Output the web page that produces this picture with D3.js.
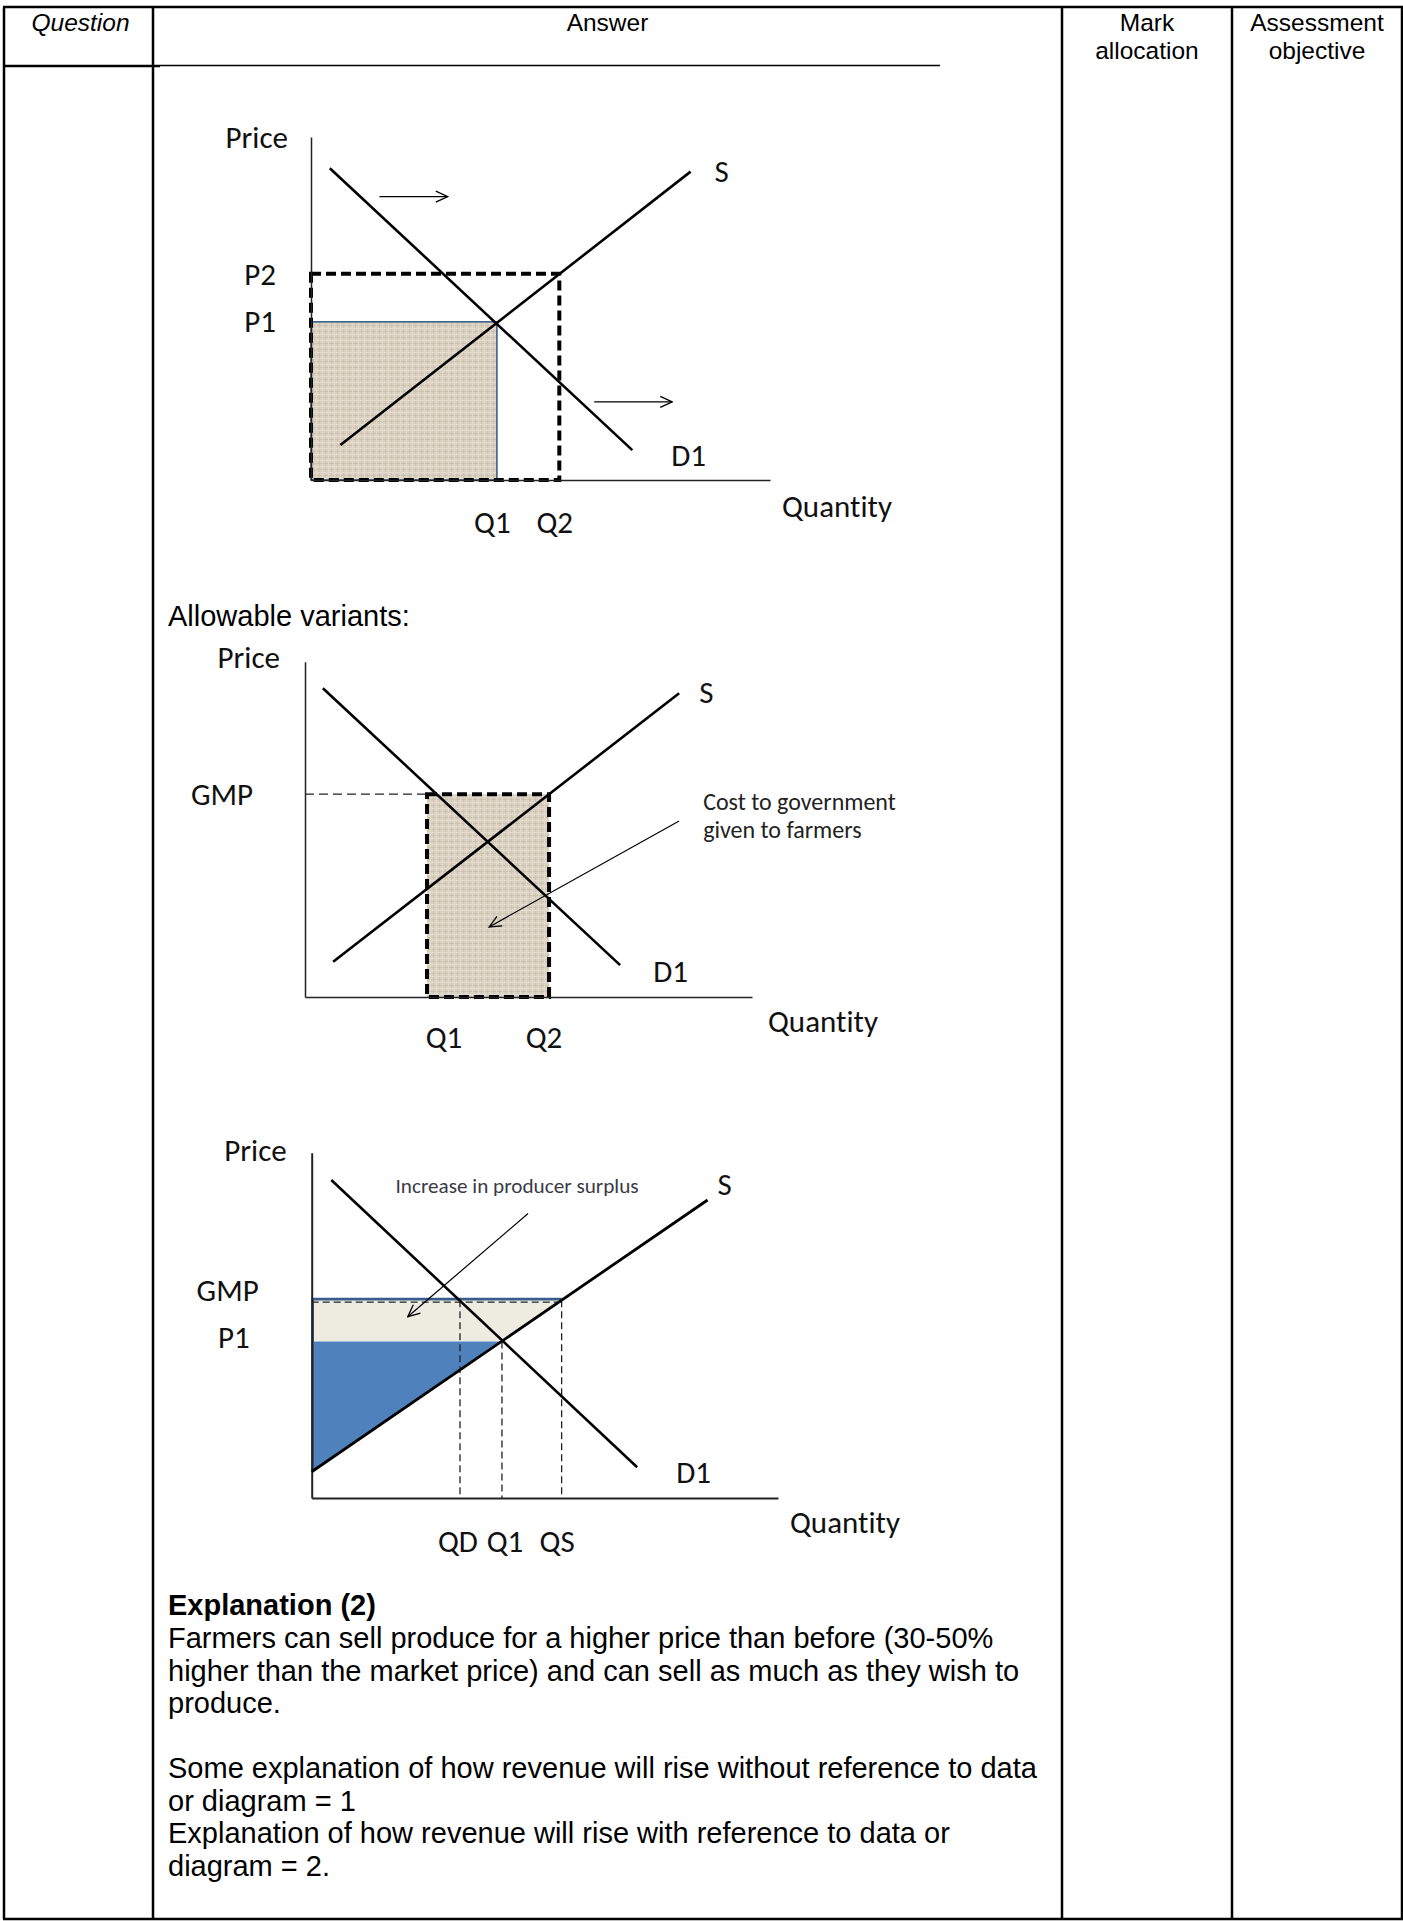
<!DOCTYPE html>
<html><head><meta charset="utf-8">
<script src="https://cdn.jsdelivr.net/npm/d3@7"></script>
<style>
html,body{margin:0;padding:0;background:#fff;}
svg{display:block;}
text{font-variant-ligatures:none;font-feature-settings:"liga" 0,"clig" 0;}
</style></head>
<body>
<svg id="chart" width="1403" height="1921"></svg>
<script>
// ================= DATA =================
const headerLabels = [["Question"], ["Answer"], ["Mark", "allocation"], ["Assessment", "objective"]];

// Diagram 1 — values in data units (0..100 on each axis)
const d1Demand = [[4.1, 90.9], [70.0, 8.7]];
const d1Supply = [[6.4, 10.2], [82.7, 89.9]];
const d1Q = {Q1: 40.5, Q2: 54.1};
const d1P = {P1: 46.1, P2: 60.1};
const d1Arrows = [[[14.9, 82.6], [29.8, 82.6]], [[61.7, 22.8], [78.7, 22.8]]];

// Diagram 2
const d2Demand = [[4.0, 92.1], [70.5, 9.5]];
const d2Supply = [[6.3, 10.5], [83.7, 90.6]];
const d2Q = {Q1: 27.3, Q2: 54.6};
const d2P = {GMP: 60.5};
const d2Arrow = [[83.7, 52.5], [41.2, 20.9]];
const d2Note = ["Cost to government", "given to farmers"];

// Diagram 3
const d3Demand = [[4.2, 92.1], [69.8, 8.9]];
const d3Supply = [[0, 7.6], [84.9, 86.3]];
const d3Q = {QD: 31.8, Q1: 40.8, QS: 53.6};
const d3P = {GMP: 57.3, P1: 45.3};
const d3Arrow = [[46.4, 82.4], [20.6, 52.5]];
const d3Note = "Increase in producer surplus";

const variantsLabel = "Allowable variants:";
const explanationTitle = "Explanation (2)";
const explanationLines = [
  "Farmers can sell produce for a higher price than before (30-50%",
  "higher than the market price) and can sell as much as they wish to",
  "produce.",
  "",
  "Some explanation of how revenue will rise without reference to data",
  "or diagram = 1",
  "Explanation of how revenue will rise with reference to data or",
  "diagram = 2."
];

// ================= LAYOUT =================
const table = {cols: [4, 153, 1062, 1232, 1402], top: 7, headBottom: 66, bottom: 1919};
const frames = [
  {x0: 311, y0: 480, x1: 770, y1: 137},
  {x0: 305, y0: 997, x1: 752, y1: 661.7},
  {x0: 311.7, y0: 1498, x1: 778, y1: 1152.7}
];
const arialF = "'Liberation Sans', Arial, Helvetica, sans-serif";
const calF = "Carlito, Calibri, Lato, sans-serif";
const labelSize = 31;

const svg = d3.select("#chart");
const defs = svg.append("defs");
const pat = defs.append("pattern").attr("id", "linen").attr("width", 6).attr("height", 6)
  .attr("patternUnits", "userSpaceOnUse");
pat.append("rect").attr("width", 6).attr("height", 6).attr("fill", "#dbd2c2");
[["M0,1.5H6", "#cabfae"], ["M1.5,0V6", "#cfc4b3"], ["M0,4.5H6", "#e5ded2"], ["M4.5,0V6", "#e1dacd"]]
  .forEach(([d, c]) => pat.append("path").attr("d", d).attr("stroke", c).attr("stroke-width", 0.9));

defs.append("marker").attr("id", "arrowOpen").attr("viewBox", "0 0 14 14")
  .attr("refX", 13).attr("refY", 7).attr("markerWidth", 14).attr("markerHeight", 14)
  .attr("markerUnits", "userSpaceOnUse").attr("orient", "auto")
  .append("path").attr("d", "M1,1.5 L13,7 L1,12.5").attr("fill", "none")
  .attr("stroke", "#000").attr("stroke-width", 1.3);

// ================= TABLE =================
const tg = svg.append("g").attr("stroke", "#000").attr("fill", "none");
const cL = table.cols;
tg.append("line").attr("x1", cL[0] - 1).attr("x2", cL[4] + 1).attr("y1", table.top).attr("y2", table.top).attr("stroke-width", 2.5);
tg.append("line").attr("x1", cL[0] - 1).attr("x2", cL[4] + 1).attr("y1", table.bottom).attr("y2", table.bottom).attr("stroke-width", 2.5);
cL.forEach(x => tg.append("line").attr("x1", x).attr("x2", x).attr("y1", table.top).attr("y2", table.bottom).attr("stroke-width", 2.5));
tg.append("line").attr("x1", cL[0]).attr("x2", 160).attr("y1", table.headBottom).attr("y2", table.headBottom).attr("stroke-width", 2.5);
tg.append("line").attr("x1", 160).attr("x2", 940).attr("y1", table.headBottom - 0.5).attr("y2", table.headBottom - 0.5).attr("stroke-width", 1.6);

const hg = svg.append("g").attr("font-family", arialF).attr("font-size", 24.5).attr("fill", "#000").attr("text-anchor", "middle");
headerLabels.forEach((lines, i) => {
  const cx = (cL[i] + cL[i + 1]) / 2 + (i === 0 ? 2 : 0);
  lines.forEach((t, j) => {
    hg.append("text").attr("x", cx).attr("y", 31 + j * 28)
      .attr("font-style", i === 0 ? "italic" : "normal").text(t);
  });
});

// ================= DIAGRAM HELPERS =================
function makeDiagram(f) {
  const x = d3.scaleLinear().domain([0, 100]).range([f.x0, f.x1]);
  const y = d3.scaleLinear().domain([0, 100]).range([f.y0, f.y1]);
  const g = svg.append("g");
  return {x, y, g, f};
}
function drawAxes(D, sw) {
  const ax = D.g.append("g").attr("transform", `translate(0,${D.f.y0})`)
    .call(d3.axisBottom(D.x).tickValues([]).tickSizeOuter(0));
  const ay = D.g.append("g").attr("transform", `translate(${D.f.x0},0)`)
    .call(d3.axisLeft(D.y).tickValues([]).tickSizeOuter(0));
  [ax, ay].forEach(a => a.select(".domain").attr("stroke", "#222").attr("stroke-width", sw));
}
function drawCurve(D, pts, sw) {
  const line = d3.line().x(d => D.x(d[0])).y(d => D.y(d[1]));
  D.g.append("path").datum(pts).attr("d", line).attr("fill", "none")
    .attr("stroke", "#000").attr("stroke-width", sw).attr("stroke-linecap", "butt");
}
function drawArrow(D, pts, sw) {
  D.g.append("line").attr("x1", D.x(pts[0][0])).attr("y1", D.y(pts[0][1]))
    .attr("x2", D.x(pts[1][0])).attr("y2", D.y(pts[1][1]))
    .attr("stroke", "#000").attr("stroke-width", sw).attr("marker-end", "url(#arrowOpen)");
}
function label(D, t, px, py, anchor, size, color) {
  D.g.append("text").attr("x", px).attr("y", py).attr("text-anchor", anchor || "start")
    .attr("font-family", calF).attr("font-size", size || labelSize).attr("fill", color || "#111").text(t);
}
function polyPath(D, pts) {
  return "M" + pts.map(p => D.x(p[0]) + "," + D.y(p[1])).join("L") + "Z";
}

// ================= DIAGRAM 1 =================
{
  const D = makeDiagram(frames[0]);
  const {x, y, g} = D;
  g.append("rect").attr("x", x(0)).attr("y", y(d1P.P1)).attr("width", x(d1Q.Q1) - x(0))
    .attr("height", y(0) - y(d1P.P1)).attr("fill", "url(#linen)").attr("stroke", "#385d8a").attr("stroke-width", 1.6);
  g.append("rect").attr("x", x(0)).attr("y", y(d1P.P2)).attr("width", x(d1Q.Q2) - x(0))
    .attr("height", y(0) - y(d1P.P2)).attr("fill", "none").attr("stroke", "#000")
    .attr("stroke-width", 4).attr("stroke-dasharray", "10,5");
  drawAxes(D, 1.5);
  drawCurve(D, d1Demand, 2.6);
  drawCurve(D, d1Supply, 2.6);
  d1Arrows.forEach(a => drawArrow(D, a, 1.3));
  label(D, "Price", D.f.x0 - 23, D.f.y1 + 11, "end");
  label(D, "P2", D.f.x0 - 35, y(d1P.P2) + 11.5, "end");
  label(D, "P1", D.f.x0 - 35, y(d1P.P1) + 10, "end");
  label(D, "Q1", x(d1Q.Q1) - 4.5, D.f.y0 + 53, "middle");
  label(D, "Q2", x(d1Q.Q2) - 4.5, D.f.y0 + 53, "middle");
  const se = d1Supply[1], de = d1Demand[1];
  label(D, "S", x(se[0]) + 24, y(se[1]) + 10, "start");
  label(D, "D1", x(de[0]) + 39, y(de[1]) + 16, "start");
  label(D, "Quantity", D.f.x1 + 12, D.f.y0 + 37, "start");
}

// ================= DIAGRAM 2 =================
{
  const D = makeDiagram(frames[1]);
  const {x, y, g} = D;
  g.append("rect").attr("x", x(d2Q.Q1)).attr("y", y(d2P.GMP)).attr("width", x(d2Q.Q2) - x(d2Q.Q1))
    .attr("height", y(0) - y(d2P.GMP)).attr("fill", "url(#linen)").attr("stroke", "#000")
    .attr("stroke-width", 4).attr("stroke-dasharray", "10,5");
  g.append("line").attr("x1", x(0)).attr("x2", x(d2Q.Q1)).attr("y1", y(d2P.GMP)).attr("y2", y(d2P.GMP))
    .attr("stroke", "#222").attr("stroke-width", 1.4).attr("stroke-dasharray", "9,5");
  drawAxes(D, 1.5);
  drawCurve(D, d2Demand, 2.6);
  drawCurve(D, d2Supply, 2.6);
  drawArrow(D, d2Arrow, 1.2);
  label(D, "Price", D.f.x0 - 25, D.f.y1 + 6, "end");
  label(D, "GMP", D.f.x0 - 52, y(d2P.GMP) + 11, "end");
  label(D, "Q1", x(d2Q.Q1) + 17, D.f.y0 + 51, "middle");
  label(D, "Q2", x(d2Q.Q2) - 5, D.f.y0 + 51, "middle");
  const se = d2Supply[1], de = d2Demand[1];
  label(D, "S", x(se[0]) + 20, y(se[1]) + 10, "start");
  label(D, "D1", x(de[0]) + 33, y(de[1]) + 17, "start");
  label(D, "Quantity", D.f.x1 + 16, D.f.y0 + 35, "start");
  const ax0 = x(d2Arrow[0][0]), ay0 = y(d2Arrow[0][1]);
  d2Note.forEach((t, i) => label(D, t, ax0 + 24, ay0 - 11 + i * 28, "start", 24, "#222"));
}

// ================= DIAGRAM 3 =================
{
  const D = makeDiagram(frames[2]);
  const {x, y, g} = D;
  g.append("path").attr("d", polyPath(D, [[0, d3P.GMP], [d3Q.QS, d3P.GMP], [d3Q.Q1, d3P.P1], [0, d3P.P1]]))
    .attr("fill", "#eeece1").attr("stroke", "none");
  g.append("path").attr("d", polyPath(D, [[0, d3P.P1], [d3Q.Q1, d3P.P1], d3Supply[0]]))
    .attr("fill", "#4f81bd").attr("stroke", "none");
  g.append("path").attr("d", `M${x(d3Q.QS)},${y(d3P.GMP) - 1}H${x(0) + 1}V${y(d3Supply[0][1])}`)
    .attr("fill", "none").attr("stroke", "#385d8a").attr("stroke-width", 2.6);
  g.append("line").attr("x1", x(0)).attr("x2", x(d3Q.QS)).attr("y1", y(d3P.GMP) + 2).attr("y2", y(d3P.GMP) + 2)
    .attr("stroke", "#222").attr("stroke-width", 1.3).attr("stroke-dasharray", "7,4");
  [[d3Q.QD, d3P.GMP], [d3Q.Q1, d3P.P1], [d3Q.QS, d3P.GMP]].forEach(([q, p]) => {
    g.append("line").attr("x1", x(q)).attr("x2", x(q)).attr("y1", y(p)).attr("y2", y(0))
      .attr("stroke", "#222").attr("stroke-width", 1.3).attr("stroke-dasharray", "7,4");
  });
  drawAxes(D, 2);
  drawCurve(D, d3Demand, 2.6);
  drawCurve(D, d3Supply, 2.8);
  drawArrow(D, d3Arrow, 1.2);
  label(D, "Price", D.f.x0 - 25, D.f.y1 + 8, "end");
  label(D, "GMP", D.f.x0 - 53, y(d3P.GMP) + 1, "end");
  label(D, "P1", D.f.x0 - 62, y(d3P.P1) + 6, "end");
  label(D, "QD", x(d3Q.QD) - 2, D.f.y0 + 54, "middle");
  label(D, "Q1", x(d3Q.Q1) + 3, D.f.y0 + 54, "middle");
  label(D, "QS", x(d3Q.QS) - 4.5, D.f.y0 + 54, "middle");
  const se = d3Supply[1], de = d3Demand[1];
  label(D, "S", x(se[0]) + 10, y(se[1]) - 5, "start");
  label(D, "D1", x(de[0]) + 39, y(de[1]) + 16, "start");
  label(D, "Quantity", D.f.x1 + 12, D.f.y0 + 35, "start");
  label(D, d3Note, x(d3Arrow[0][0]) - 11, y(d3Arrow[0][1]) - 20.5, "middle", 21.2, "#3a3a48");
}

// ================= TEXT =================
const bt = svg.append("g").attr("font-family", arialF).attr("font-size", 29).attr("fill", "#000");
bt.append("text").attr("x", 168).attr("y", 626).text(variantsLabel);
bt.append("text").attr("x", 168).attr("y", 1615).attr("font-weight", "bold").text(explanationTitle);
explanationLines.forEach((t, i) => {
  if (t) bt.append("text").attr("x", 168).attr("y", 1648 + i * 32.5).text(t);
});
</script>
</body></html>
